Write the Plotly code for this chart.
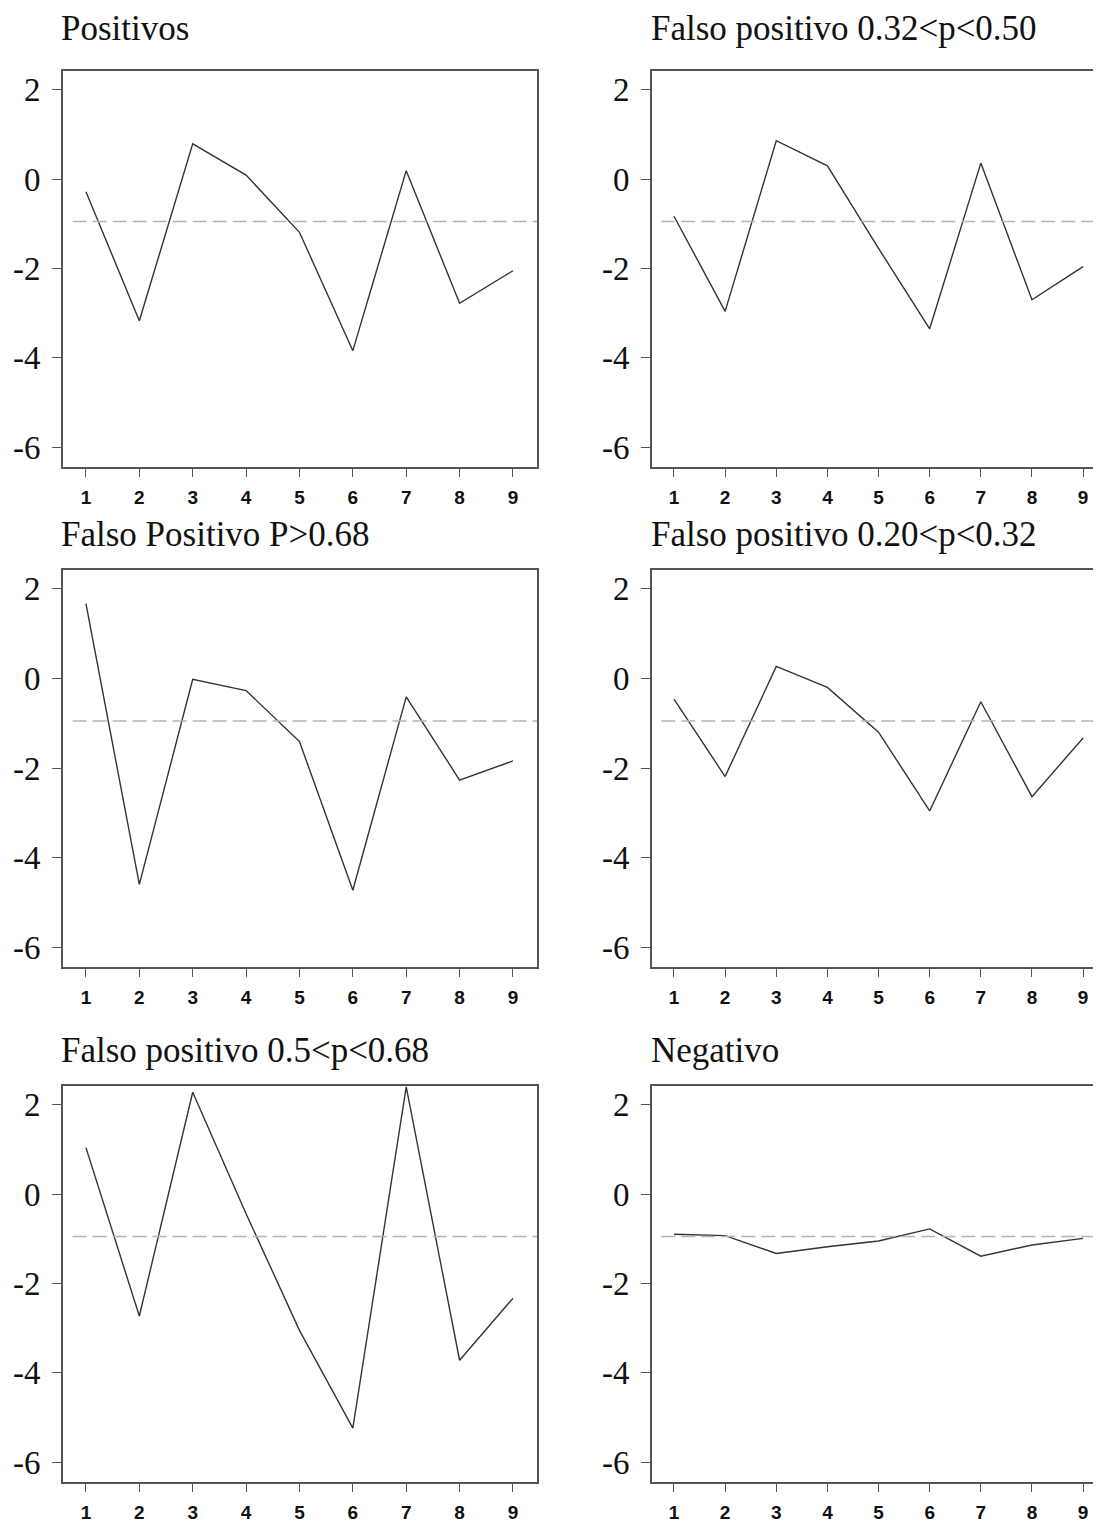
import plotly.graph_objects as go

# datos
x_vals = [1, 2, 3, 4, 5, 6, 7, 8, 9]

titles = [
    "Positivos",
    "Falso positivo 0.32<p<0.50",
    "Falso Positivo P>0.68",
    "Falso positivo 0.20<p<0.32",
    "Falso positivo 0.5<p<0.68",
    "Negativo",
]

positivos = [-0.28, -3.17, 0.79, 0.09, -1.19, -3.84, 0.19, -2.78, -2.05]
fp_032_050 = [-0.83, -2.96, 0.86, 0.30, -1.55, -3.35, 0.36, -2.70, -1.96]
fp_068 = [1.67, -4.60, -0.02, -0.27, -1.41, -4.73, -0.41, -2.27, -1.84]
fp_020_032 = [-0.46, -2.19, 0.27, -0.20, -1.20, -2.96, -0.52, -2.64, -1.33]
fp_050_068 = [1.04, -2.73, 2.28, -0.44, -3.05, -5.24, 2.40, -3.72, -2.33]
negativo = [-0.90, -0.93, -1.33, -1.18, -1.05, -0.78, -1.39, -1.14, -0.99]

series = [positivos, fp_032_050, fp_068, fp_020_032, fp_050_068, negativo]

ref_level = -0.95
ref_start = 0.75

y_ticks = [2, 0, -2, -4, -6]
y_ticktext = ["2", "0", "-2", "-4", "-6"]

# la pagina tiene 8px de margen en el body
OFF = 8
W, H = 1101 - OFF, 1523 - OFF

# posiciones en pixeles de los marcos (coordenadas de la pagina)
col_px = [(63, 537), (652, 1101)]
row_px = [(71, 470), (573, 973), (1092, 1491)]
title_y_px = [None, 538, 1057]   # fila 1: pegado arriba
title_x_px = [60, 650]
x_ranges = [[0.57, 9.45], [0.57, 9.35]]
y_range = [-6.45, 2.43]

fig = go.Figure()

for i, (title, ys) in enumerate(zip(titles, series)):
    r, c = divmod(i, 2)
    n = i + 1
    xa = "x" if n == 1 else f"x{n}"
    ya = "y" if n == 1 else f"y{n}"

    fig.add_trace(go.Scatter(
        x=x_vals, y=ys, mode="lines",
        line=dict(color="#333333", width=1.4),
        xaxis=xa, yaxis=ya, showlegend=False, hoverinfo="skip"))

    fig.add_trace(go.Scatter(
        x=[ref_start, x_ranges[c][1] + 1], y=[ref_level, ref_level], mode="lines",
        line=dict(color="#b4b4b4", width=1.5, dash="14px,6px"),
        xaxis=xa, yaxis=ya, showlegend=False, hoverinfo="skip"))

    x0, x1 = (v - OFF for v in col_px[c])
    t, b = (v - OFF for v in row_px[r])
    fig.layout[f"xaxis{'' if n == 1 else n}"] = dict(
        domain=[x0 / W, min(x1 / W, 1.0)], anchor=ya, range=x_ranges[c],
        tickvals=x_vals, ticks="outside", ticklen=8, tickwidth=1.4,
        tickcolor="#555", showline=True, mirror=True, linecolor="#555",
        linewidth=1.7, showgrid=False, zeroline=False,
        tickfont=dict(family="Liberation Sans", size=19, color="#111", weight="bold"),
        ticklabelstandoff=4)
    fig.layout[f"yaxis{'' if n == 1 else n}"] = dict(
        domain=[1 - b / H, 1 - t / H], anchor=xa, range=y_range,
        tickvals=y_ticks, ticktext=y_ticktext, ticks="outside", ticklen=9,
        tickwidth=1.4, tickcolor="#555", showline=True,
        mirror=(c == 0), linecolor="#555", linewidth=1.7,
        showgrid=False, zeroline=False,
        tickfont=dict(family="Liberation Serif", size=33, color="#111"),
        ticklabelstandoff=5)

    if title_y_px[r] is None:
        ty, yanc = 1.0, "top"
    else:
        ty, yanc = 1 - (title_y_px[r] - OFF) / H, "middle"
    fig.add_annotation(
        text=title, xref="paper", yref="paper",
        x=(title_x_px[c] - OFF) / W, y=ty,
        xanchor="left", yanchor=yanc, showarrow=False, borderpad=0,
        font=dict(family="Liberation Serif", size=35, color="#111"))

fig.update_layout(
    width=W, height=H,
    margin=dict(l=0, r=0, t=0, b=0),
    plot_bgcolor="white", paper_bgcolor="white")

fig.write_html("out.html")
